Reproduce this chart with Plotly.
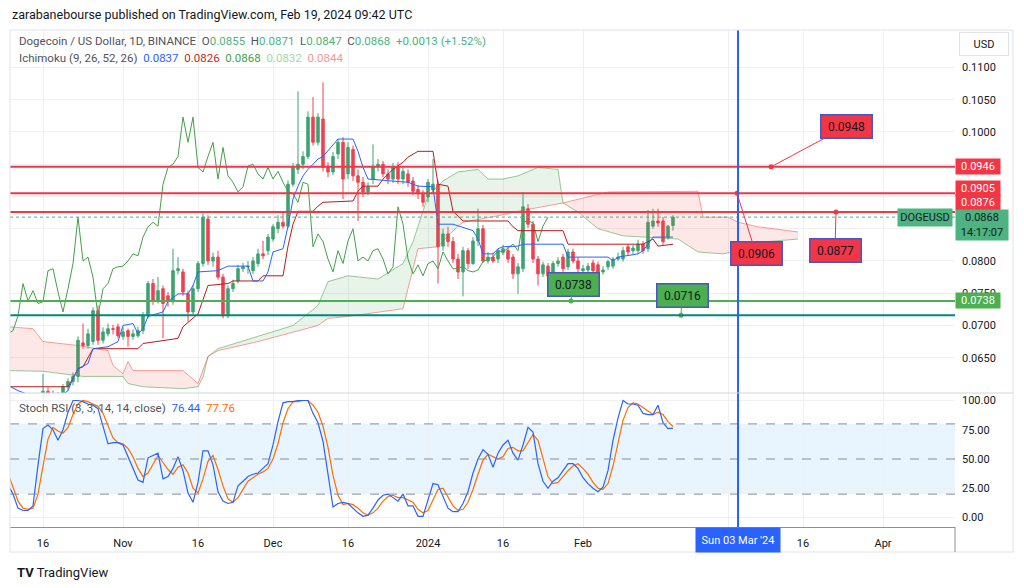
import pandas as pd
import plotly.graph_objects as go

# DOGEUSD daily candles (Binance), 9 Oct 2023 .. 19 Feb 2024
dates = pd.date_range('2023-10-09', '2024-02-19', freq='D')

opens = [0.0594, 0.0588, 0.0585, 0.0587, 0.0583, 0.0584, 0.0581, 0.0585, 0.0598, 0.0594, 0.0590, 0.0592,
         0.0605, 0.0613, 0.0621, 0.0673, 0.0669, 0.0675, 0.0723, 0.0677, 0.0687, 0.0695, 0.0698, 0.0683,
         0.0692, 0.0683, 0.0684, 0.0692, 0.0715, 0.0765, 0.0738, 0.0757, 0.0746, 0.0737, 0.0785, 0.0783,
         0.0749, 0.0721, 0.0757, 0.0796, 0.0865, 0.0800, 0.0806, 0.0775, 0.0715, 0.0757, 0.0769, 0.0788,
         0.0791, 0.0785, 0.0796, 0.0811, 0.0816, 0.0834, 0.0850, 0.0860, 0.0854, 0.0919, 0.0942, 0.0950,
         0.0962, 0.1023, 0.0984, 0.1020, 0.0947, 0.0938, 0.0966, 0.0984, 0.0935, 0.0973, 0.0932, 0.0922,
         0.0907, 0.0927, 0.0947, 0.0950, 0.0935, 0.0927, 0.0947, 0.0927, 0.0935, 0.0924, 0.0911, 0.0904,
         0.0899, 0.0910, 0.0919, 0.0823, 0.0842, 0.0830, 0.0803, 0.0783, 0.0816, 0.0796, 0.0831, 0.0850,
         0.0800, 0.0806, 0.0803, 0.0813, 0.0816, 0.0806, 0.0780, 0.0788, 0.0881, 0.0857, 0.0803, 0.0780,
         0.0792, 0.0777, 0.0796, 0.0806, 0.0791, 0.0814, 0.0800, 0.0785, 0.0786, 0.0797, 0.0794, 0.0783,
         0.0791, 0.0792, 0.0803, 0.0803, 0.0822, 0.0816, 0.0816, 0.0826, 0.0819, 0.0854, 0.0862, 0.0862,
         0.0837, 0.0855]
highs = [0.0597, 0.0592, 0.0590, 0.0590, 0.0588, 0.0586, 0.0588, 0.0625, 0.0604, 0.0599, 0.0597, 0.0609,
         0.0618, 0.0627, 0.0683, 0.0703, 0.0695, 0.0728, 0.0731, 0.0697, 0.0703, 0.0701, 0.0703, 0.0697,
         0.0695, 0.0694, 0.0698, 0.0721, 0.0769, 0.0772, 0.0775, 0.0762, 0.0752, 0.0819, 0.0806, 0.0788,
         0.0754, 0.0763, 0.0800, 0.0874, 0.0871, 0.0813, 0.0816, 0.0780, 0.0762, 0.0771, 0.0794, 0.0797,
         0.0800, 0.0806, 0.0819, 0.0831, 0.0842, 0.0857, 0.0871, 0.0876, 0.0925, 0.0952, 0.1063, 0.0970,
         0.1032, 0.1054, 0.1029, 0.1077, 0.0953, 0.0969, 0.0989, 0.0992, 0.0984, 0.0979, 0.0942, 0.0930,
         0.0922, 0.0981, 0.0958, 0.0955, 0.0942, 0.0952, 0.0953, 0.0945, 0.0942, 0.0930, 0.0918, 0.0910,
         0.0927, 0.0958, 0.0925, 0.0850, 0.0853, 0.0837, 0.0811, 0.0822, 0.0820, 0.0837, 0.0881, 0.0856,
         0.0814, 0.0813, 0.0819, 0.0825, 0.0822, 0.0811, 0.0797, 0.0907, 0.0888, 0.0862, 0.0808, 0.0799,
         0.0797, 0.0800, 0.0806, 0.0811, 0.0819, 0.0819, 0.0806, 0.0794, 0.0797, 0.0802, 0.0799, 0.0792,
         0.0802, 0.0806, 0.0813, 0.0822, 0.0826, 0.0825, 0.0833, 0.0831, 0.0879, 0.0881, 0.0881, 0.0868,
         0.0856, 0.0871]
lows = [0.0583, 0.0577, 0.0580, 0.0578, 0.0580, 0.0575, 0.0579, 0.0583, 0.0590, 0.0585, 0.0586, 0.0589,
        0.0599, 0.0607, 0.0612, 0.0664, 0.0664, 0.0670, 0.0670, 0.0672, 0.0683, 0.0686, 0.0680, 0.0678,
        0.0667, 0.0678, 0.0681, 0.0687, 0.0711, 0.0732, 0.0734, 0.0680, 0.0729, 0.0732, 0.0779, 0.0746,
        0.0706, 0.0717, 0.0752, 0.0791, 0.0794, 0.0791, 0.0771, 0.0711, 0.0711, 0.0752, 0.0765, 0.0783,
        0.0780, 0.0780, 0.0791, 0.0803, 0.0809, 0.0830, 0.0843, 0.0850, 0.0851, 0.0915, 0.0935, 0.0942,
        0.0958, 0.0979, 0.0979, 0.0939, 0.0930, 0.0933, 0.0958, 0.0896, 0.0927, 0.0924, 0.0862, 0.0899,
        0.0902, 0.0919, 0.0939, 0.0930, 0.0919, 0.0921, 0.0919, 0.0919, 0.0915, 0.0902, 0.0896, 0.0884,
        0.0891, 0.0904, 0.0765, 0.0816, 0.0822, 0.0797, 0.0772, 0.0745, 0.0788, 0.0794, 0.0823, 0.0797,
        0.0796, 0.0797, 0.0797, 0.0809, 0.0797, 0.0772, 0.0749, 0.0783, 0.0851, 0.0797, 0.0762, 0.0775,
        0.0771, 0.0772, 0.0791, 0.0783, 0.0786, 0.0796, 0.0782, 0.0780, 0.0782, 0.0780, 0.0777, 0.0779,
        0.0786, 0.0788, 0.0800, 0.0799, 0.0809, 0.0811, 0.0811, 0.0811, 0.0814, 0.0850, 0.0853, 0.0825,
        0.0833, 0.0847]
closes = [0.0588, 0.0585, 0.0587, 0.0583, 0.0584, 0.0581, 0.0585, 0.0598, 0.0594, 0.0590, 0.0592, 0.0605,
          0.0613, 0.0621, 0.0677, 0.0669, 0.0687, 0.0723, 0.0677, 0.0690, 0.0695, 0.0694, 0.0684, 0.0690,
          0.0683, 0.0687, 0.0692, 0.0715, 0.0765, 0.0738, 0.0754, 0.0734, 0.0737, 0.0785, 0.0788, 0.0752,
          0.0721, 0.0757, 0.0796, 0.0868, 0.0800, 0.0806, 0.0775, 0.0715, 0.0757, 0.0765, 0.0788, 0.0791,
          0.0792, 0.0800, 0.0811, 0.0808, 0.0837, 0.0853, 0.0860, 0.0854, 0.0919, 0.0945, 0.0950, 0.0962,
          0.1023, 0.0984, 0.1023, 0.0945, 0.0938, 0.0962, 0.0984, 0.0927, 0.0976, 0.0932, 0.0922, 0.0907,
          0.0915, 0.0947, 0.0950, 0.0935, 0.0927, 0.0945, 0.0927, 0.0939, 0.0922, 0.0908, 0.0904, 0.0891,
          0.0922, 0.0919, 0.0822, 0.0842, 0.0830, 0.0803, 0.0783, 0.0816, 0.0796, 0.0831, 0.0850, 0.0800,
          0.0806, 0.0800, 0.0816, 0.0819, 0.0803, 0.0780, 0.0791, 0.0884, 0.0857, 0.0803, 0.0780, 0.0794,
          0.0777, 0.0796, 0.0800, 0.0788, 0.0814, 0.0800, 0.0788, 0.0788, 0.0792, 0.0785, 0.0783, 0.0786,
          0.0799, 0.0803, 0.0806, 0.0816, 0.0814, 0.0820, 0.0826, 0.0816, 0.0860, 0.0862, 0.0859, 0.0830,
          0.0854, 0.0868]

# Stoch RSI (3, 3, 14, 14): K and D, same days as the candles
stoch_k = [28, 20, 8, 6, 6, 10, 45, 76, 79, 75, 66, 75,
           90, 100, 100, 99, 97, 96, 93, 78, 63, 64, 64, 62,
           52, 42, 32, 30, 51, 53, 55, 33, 35, 42, 52, 40,
           21, 13, 30, 57, 57, 45, 22, 14, 12, 13, 27, 31,
           35, 37, 38, 42, 46, 62, 82, 98, 99, 99, 100, 100,
           100, 89, 81, 65, 35, 9, 12, 13, 12, 8, 4, 1,
           2, 8, 15, 19, 20, 17, 14, 20, 10, 10, 1, 1,
           15, 29, 28, 18, 8, 5, 5, 12, 22, 38, 50, 58,
           54, 43, 55, 62, 66, 55, 49, 62, 77, 73, 46, 31,
           25, 31, 34, 40, 46, 46, 42, 34, 29, 25, 22, 26,
           40, 66, 85, 100, 97, 97, 96, 89, 88, 88, 96, 81,
           76, 76.44]
stoch_d = [38, 25, 14, 8, 7, 8, 20, 44, 67, 77, 74, 72,
           77, 88, 97, 100, 99, 97, 95, 89, 78, 68, 64, 63,
           59, 52, 42, 35, 38, 45, 53, 47, 41, 37, 43, 45,
           38, 25, 21, 33, 48, 53, 41, 27, 16, 13, 17, 24,
           31, 34, 37, 39, 42, 50, 63, 81, 93, 99, 99, 100,
           100, 96, 90, 78, 60, 36, 19, 11, 12, 11, 8, 4,
           2, 4, 8, 14, 18, 19, 17, 17, 15, 13, 7, 4,
           6, 15, 24, 25, 18, 10, 6, 7, 13, 24, 37, 49,
           54, 52, 50, 52, 59, 60, 57, 57, 64, 71, 66, 50,
           35, 29, 30, 35, 40, 44, 46, 42, 37, 30, 25, 24,
           29, 44, 63, 83, 94, 98, 97, 94, 91, 88, 90, 88,
           82, 77.76]

# Ichimoku lines read as (day offset from 1 Nov 2023, price) points
tenkan_day = [-23, -21, -19, -12, -11, -10, -9, -7, -6, -3, -1, 0, 2, 3, 4, 5, 8, 9, 11, 13, 14, 15, 19, 21,
              25, 26, 28, 29, 30, 32, 33, 34, 35, 36, 37, 39, 40, 42, 43, 46, 47, 48, 49, 57, 59, 62, 63,
              66, 70, 71, 72, 74, 75, 76, 79, 80, 88, 89, 97, 98, 99, 103, 104, 105, 106, 110]
tenkan_val = [0.0607, 0.0599, 0.0593, 0.0593, 0.0599, 0.0618, 0.0633, 0.0641, 0.0664, 0.0667, 0.0675,
              0.0700, 0.0703, 0.0687, 0.0695, 0.0714, 0.0721, 0.0737, 0.0749, 0.0749, 0.0762, 0.0783,
              0.0785, 0.0792, 0.0792, 0.0769, 0.0769, 0.0783, 0.0814, 0.0819, 0.0854, 0.0896, 0.0916,
              0.0932, 0.0942, 0.0958, 0.0962, 0.0981, 0.0989, 0.0989, 0.0970, 0.0945, 0.0927, 0.0922,
              0.0916, 0.0915, 0.0857, 0.0857, 0.0847, 0.0834, 0.0811, 0.0811, 0.0819, 0.0822, 0.0823,
              0.0826, 0.0826, 0.0806, 0.0806, 0.0800, 0.0806, 0.0811, 0.0816, 0.0826, 0.0837, 0.0837]
kijun_day = [-23, -11, -10, -9, -8, -6, 3, 4, 11, 12, 15, 16, 17, 21, 22, 27, 28, 32, 33, 34, 35, 38, 39,
             40, 46, 47, 48, 51, 52, 54, 56, 57, 59, 62, 63, 65, 66, 68, 77, 78, 79, 88, 89, 104, 106, 107, 110]
kijun_val = [0.0605, 0.0605, 0.0618, 0.0633, 0.0636, 0.0664, 0.0664, 0.0672, 0.0680, 0.0698, 0.0718,
             0.0741, 0.0762, 0.0765, 0.0769, 0.0769, 0.0777, 0.0777, 0.0823, 0.0857, 0.0877, 0.0877,
             0.0885, 0.0891, 0.0893, 0.0908, 0.0916, 0.0916, 0.0927, 0.0942, 0.0953, 0.0961, 0.0970,
             0.0970, 0.0919, 0.0916, 0.0877, 0.0862, 0.0862, 0.0853, 0.0847, 0.0847, 0.0826, 0.0826,
             0.0834, 0.0823, 0.0826]
span_a_day = [-23, -16, -8, 0, 1, 4, 12, 15, 16, 17, 19, 27, 34, 39, 41, 45, 51, 56, 58, 61, 64, 67, 71,
              73, 76, 79, 83, 87, 88, 91, 95, 100, 111, 115, 120, 125, 129, 135]
span_a_val = [0.0630, 0.0629, 0.0621, 0.0621, 0.0610, 0.0605, 0.0602, 0.0605, 0.0620, 0.0652, 0.0664,
              0.0683, 0.0700, 0.0731, 0.0768, 0.0777, 0.0772, 0.0796, 0.0830, 0.0901, 0.0924, 0.0938,
              0.0942, 0.0927, 0.0927, 0.0932, 0.0945, 0.0942, 0.0890, 0.0876, 0.0850, 0.0839, 0.0834,
              0.0814, 0.0811, 0.0819, 0.0830, 0.0834]
span_b_day = [-23, -18, -16, -9, -3, -2, 0, 1, 2, 12, 15, 17, 19, 27, 39, 41, 45, 56, 58, 59, 63, 65, 67,
              68, 75, 79, 88, 97, 115, 116, 121, 123, 127, 135]
span_b_val = [0.0698, 0.0695, 0.0675, 0.0669, 0.0661, 0.0638, 0.0625, 0.0644, 0.0630, 0.0630, 0.0610,
              0.0652, 0.0661, 0.0675, 0.0700, 0.0711, 0.0714, 0.0726, 0.0788, 0.0819, 0.0822, 0.0839,
              0.0854, 0.0860, 0.0870, 0.0877, 0.0890, 0.0907, 0.0908, 0.0868, 0.0868, 0.0860, 0.0853, 0.0845]

# drawn levels and callouts
level_prices = [0.0946, 0.0905, 0.0876, 0.0738, 0.0716]
level_colors = ['#F23645', '#F23645', '#F23645', '#4CAF50', '#00897B']
callout_text = ['0.0948', '0.0906', '0.0877', '0.0738', '0.0716']
callout_day = [129.6, 122.8, 142.6, 89.6, 111.6]      # anchor dot
callout_price = [0.0946, 0.0905, 0.0876, 0.0738, 0.0716]
callout_box_day = [144.6, 126.6, 142.4, 90.0, 111.8]  # label box
callout_box_price = [0.1008, 0.0811, 0.0817, 0.0764, 0.0746]
callout_fill = ['#F23645', '#F23645', '#F23645', '#4CAF50', '#4CAF50']

price_ticks = [0.065, 0.07, 0.075, 0.08, 0.085, 0.09, 0.095, 0.1, 0.105, 0.11]
price_tick_text = ['0.0650', '0.0700', '0.0750', '0.0800', '', '', '', '0.1000', '0.1050', '0.1100']

last_price = 0.0868
base = pd.Timestamp('2023-11-01')


def day(n):
    return base + pd.to_timedelta(n, unit='D')


def days(lst):
    return [day(n) for n in lst]


# pixel helpers for the page furniture (plot area is x 10..955, y 30..527)
def px(x):
    return (x - 10) / 945


def py(y):
    return (527 - y) / 497


split = py(393)
UP, DOWN = '#3DA372', '#EF404F'
fig = go.Figure()

# --- Ichimoku cloud fills
def seg(dd, vv, lo, hi):
    return [(d, v) for d, v in zip(dd, vv) if lo <= d <= hi]

for lo, hi, col in [(-23, 17, 'rgba(244,67,54,0.12)'), (17, 88, 'rgba(67,160,71,0.12)'),
                    (88, 135, 'rgba(244,67,54,0.12)')]:
    a = seg(span_a_day, span_a_val, lo, hi)
    b = seg(span_b_day, span_b_val, lo, hi)[::-1]
    pts = a + b
    fig.add_trace(go.Scatter(x=days([p[0] for p in pts]), y=[p[1] for p in pts], fill='toself',
                             fillcolor=col, line=dict(width=0), mode='lines', hoverinfo='skip'))

fig.add_trace(go.Scatter(x=days(span_a_day), y=span_a_val, mode='lines',
                         line=dict(color='rgba(67,160,71,0.55)', width=1)))
fig.add_trace(go.Scatter(x=days(span_b_day), y=span_b_val, mode='lines',
                         line=dict(color='rgba(244,67,54,0.5)', width=1)))

# horizontal levels
for p, c in zip(level_prices, level_colors):
    fig.add_shape(type='line', xref='paper', x0=0, x1=1, yref='y', y0=p, y1=p,
                  line=dict(color=c, width=2))
fig.add_shape(type='line', xref='paper', x0=0, x1=1, yref='y', y0=last_price, y1=last_price,
              line=dict(color='#4DB380', width=1, dash='dot'))

# chikou (close shifted back 25 bars), tenkan, kijun
fig.add_trace(go.Scatter(x=dates - pd.Timedelta(days=25), y=closes, mode='lines',
                         line=dict(color='#43A047', width=1)))
fig.add_trace(go.Scatter(x=days(kijun_day), y=kijun_val, mode='lines',
                         line=dict(color='#B71C1C', width=1)))
fig.add_trace(go.Scatter(x=days(tenkan_day), y=tenkan_val, mode='lines',
                         line=dict(color='#2962FF', width=1)))

fig.add_trace(go.Candlestick(x=dates, open=opens, high=highs, low=lows, close=closes,
                             increasing=dict(line=dict(color=UP, width=1), fillcolor=UP),
                             decreasing=dict(line=dict(color=DOWN, width=1), fillcolor=DOWN),
                             whiskerwidth=0, hoverinfo='skip'))

# --- Stoch RSI pane
fig.add_shape(type='rect', xref='paper', x0=0, x1=1, yref='y2', y0=20, y1=80,
              fillcolor='rgba(33,150,243,0.1)', line_width=0, layer='below')
for lv in [80, 50, 20]:
    fig.add_shape(type='line', xref='paper', x0=0, x1=1, yref='y2', y0=lv, y1=lv,
                  line=dict(color='#8A8D96', width=1, dash='dash'))
fig.add_trace(go.Scatter(x=dates, y=stoch_d, yaxis='y2', mode='lines', line=dict(color='#FF6D00', width=1.2)))
fig.add_trace(go.Scatter(x=dates, y=stoch_k, yaxis='y2', mode='lines', line=dict(color='#2962FF', width=1.2)))

# vertical marker at 3 Mar 2024
fig.add_shape(type='line', xref='x', x0=day(123), x1=day(123), yref='paper', y0=0, y1=1,
              line=dict(color='#2962FF', width=2))

# callouts with anchor dots
for t, d0, p0, d1, p1, c in zip(callout_text, callout_day, callout_price, callout_box_day,
                                callout_box_price, callout_fill):
    fig.add_annotation(x=day(d0), y=p0, xref='x', yref='y', ax=day(d1), ay=p1, axref='x', ayref='y',
                       text=t, showarrow=True, arrowhead=0, arrowwidth=1, arrowcolor=c,
                       bgcolor=c, bordercolor='#4A55C8', borderwidth=1.5, borderpad=3,
                       width=44, height=16, font=dict(size=12, color='#131722'))
fig.add_trace(go.Scatter(x=days(callout_day), y=callout_price, mode='markers',
                         marker=dict(size=5, color=callout_fill)))

# --- right-axis price labels
def axis_label(text, price, bg, fg, yshift=0, h=15, w=44):
    fig.add_annotation(xref='paper', x=1, xanchor='left', yref='y', y=price, yshift=yshift,
                       yanchor='middle', text=text, showarrow=False, bgcolor=bg, width=w, height=h,
                       font=dict(size=11, color=fg), borderpad=0)

axis_label('0.0946', 0.0946, '#F23645', 'white')
axis_label('0.0905', 0.0905, '#F23645', 'white', yshift=5, h=15)
axis_label('0.0876', 0.0876, '#F23645', 'white', yshift=9, h=15)
axis_label('0.0868<br>14:17:07', last_price, '#4DB380', '#131722', yshift=-8, h=30, w=52)
axis_label('0.0738', 0.0738, '#4CAF50', 'white', h=15)
fig.add_annotation(xref='paper', x=px(953), xanchor='right', yref='y', y=last_price, yanchor='middle',
                   text='DOGEUSD', showarrow=False, bgcolor='#4DB380', width=52, height=15,
                   font=dict(size=11, color='#131722'))

# time label for the marker
fig.add_annotation(xref='x', x=day(123), xanchor='center', yref='paper', y=py(540), yanchor='middle',
                   text="Sun 03 Mar '24", showarrow=False, bgcolor='#2962FF', width=82, height=22,
                   font=dict(size=11, color='white'))

# frame bits
fig.add_shape(type='rect', xref='paper', yref='paper', x0=0, x1=px(1013), y0=py(552), y1=1,
              line=dict(color='#E0E3EB', width=1))
fig.add_shape(type='line', xref='paper', yref='paper', x0=0, x1=px(1013), y0=split, y1=split,
              line=dict(color='#D1D4DC', width=1))
fig.add_shape(type='line', xref='paper', yref='paper', x0=1, x1=1, y0=py(552), y1=0,
              line=dict(color='#8C8F99', width=1))
fig.add_annotation(xref='paper', yref='paper', x=px(984), y=py(44), xanchor='center', yanchor='middle',
                   text='USD', showarrow=False, bordercolor='#E0E3EB', borderwidth=1, width=46, height=20,
                   font=dict(size=11, color='#131722'))

# texts
grey = '#50535E'
nb = '\u00a0'
green_txt = '#4DB380'
head1 = (f"Dogecoin / US Dollar, 1D, BINANCE{nb*2}O<span style='color:{green_txt}'>0.0855</span>{nb*2}"
         f"H<span style='color:{green_txt}'>0.0871</span>{nb*2}L<span style='color:{green_txt}'>0.0847</span>{nb*2}"
         f"C<span style='color:{green_txt}'>0.0868</span>{nb*2}<span style='color:{green_txt}'>+0.0013 (+1.52%)</span>")
head2 = (f"Ichimoku (9, 26, 52, 26){nb*2}<span style='color:#2962FF'>0.0837</span>{nb*2}"
         f"<span style='color:#C62828'>0.0826</span>{nb*2}<span style='color:#43A047'>0.0868</span>{nb*2}"
         f"<span style='color:#A5D6A7'>0.0832</span>{nb*2}<span style='color:#EF9A9A'>0.0844</span>")
head3 = (f"Stoch RSI (3, 3, 14, 14, close){nb*2}<span style='color:#2962FF'>76.44</span>{nb*2}"
         f"<span style='color:#FF6D00'>77.76</span>")
for txt, yy in [(head1, 41), (head2, 58), (head3, 408)]:
    fig.add_annotation(xref='paper', yref='paper', x=px(17), y=py(yy), xanchor='left', yanchor='middle',
                       text=txt, showarrow=False, font=dict(size=11.5, color=grey))
fig.add_annotation(xref='paper', yref='paper', x=0, y=py(14), xanchor='left', yanchor='middle',
                   text='zarabanebourse published on TradingView.com, Feb 19, 2024 09:42 UTC',
                   showarrow=False, font=dict(size=12.5, color='#131722'))
fig.add_annotation(xref='paper', yref='paper', x=px(15), y=py(572), xanchor='left', yanchor='middle',
                   text='<b>TV</b> TradingView', showarrow=False, font=dict(size=13, color='#131722'))

tick_days = ['2023-10-16', '2023-11-01', '2023-11-16', '2023-12-01', '2023-12-16', '2024-01-01',
             '2024-01-16', '2024-02-01', '2024-03-01', '2024-03-16', '2024-04-01']
tick_text = ['16', 'Nov', '16', 'Dec', '16', '2024', '16', 'Feb', '', '16', 'Apr']

fig.update_layout(
    width=1024, height=588, margin=dict(l=10, r=69, t=30, b=61),
    paper_bgcolor='white', plot_bgcolor='white', showlegend=False,
    font=dict(family='Roboto, sans-serif', size=11, color='#131722'),
    xaxis=dict(type='date', range=[day(-22.6), day(166.4)], anchor='y2', tickvals=tick_days,
               ticktext=tick_text, showgrid=True, gridcolor='#EEF0F4', showline=True,
               linecolor='#8C8F99', ticks='', zeroline=False, rangeslider=dict(visible=False),
               ticklabelstandoff=6, tickfont=dict(size=11, color='#131722')),
    yaxis=dict(domain=[split, 1], side='right', anchor='x', range=[0.05953, 0.11581],
               tickvals=price_ticks, ticktext=price_tick_text, showgrid=True, gridcolor='#EEF0F4',
               showline=False, ticks='', zeroline=False, ticklabelstandoff=6,
               tickfont=dict(size=11, color='#131722')),
    yaxis2=dict(domain=[0, split], side='right', anchor='x', range=[-8.1, 106.4],
                tickvals=[0, 25, 50, 75, 100], tickformat='.2f', showgrid=True, gridcolor='#EEF0F4',
                showline=False, ticks='', zeroline=False, ticklabelstandoff=6,
                tickfont=dict(size=11, color='#131722')),
)

# the page has a default body margin; drop it so the figure sits at the window corner
fig.write_html('out.html', config={'displayModeBar': False},
               post_script="document.body.style.margin='0';")
